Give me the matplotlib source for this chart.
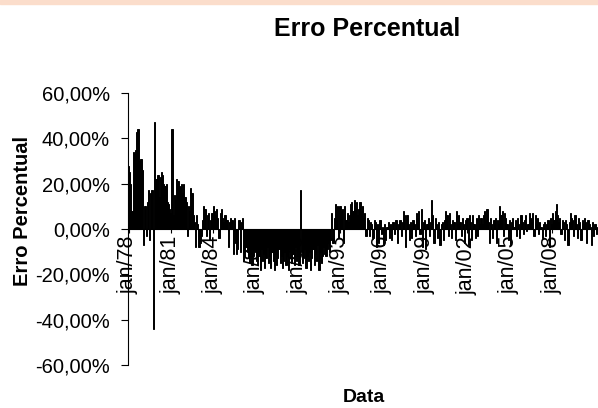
import matplotlib
matplotlib.use('Agg')
import matplotlib.pyplot as plt
import numpy as np
from matplotlib.patches import Rectangle
from matplotlib.ticker import FuncFormatter

plt.rcParams['font.family'] = ['Liberation Sans', 'DejaVu Sans']

# erro percentual mensal (%), jan/78 em diante
e1978 = [28, 25, 20, 8, 34, 33, 35, 43, 44, 30, 31, 31]
e1979 = [26, -7, 10, -3, 12, 17, -5, 16, 17, -44, 47, 22]
e1980 = [22, 24, 14, 23, 25, 24, 20, 19, 20, 12, 11, 9]
e1981 = [7, 44, 6, 15, 13, 22, 21, 19, 18, 20, 16, 20]
e1982 = [14, 12, -3, 10, 8, 18, 16, 6, 3, -8, 6, 2]
e1983 = [-8, -6, -3, 4, 10, 9, -3, 6, 7, -5, 4, 7]
e1984 = [10, 8, 6, 9, 5, -4, 7, 9, 5, 3, 6, 4]
e1985 = [4, -8, 3, 5, 4, -11, 5, -6, -11, -9, 4, -10]
e1986 = [3, 5, -14, -12, -8, -10, -13, -15, -11, -16, -12, -9]
e1987 = [-10, -14, -16, -12, -18, -9, -14, -11, -17, -13, -8, -15]
e1988 = [-12, -17, -10, -14, -18, -11, -16, -13, -9, -15, -12, -17]
e1989 = [-14, -10, -16, -12, -18, -9, -13, -15, -11, -16, -8, -14]
e1990 = [-12, -16, 17, -10, -15, -13, -9, -17, -12, -14, -10, -18]
e1991 = [-13, -9, -16, -11, -14, -7, -18, -10, -15, -12, -8, -11]
e1992 = [-12, -9, -6, -10, -5, 7, -6, 5, 11, 4, 10, -4]
e1993 = [10, 8, 9, -6, 10, 4, 7, 3, 6, 11, 12, 8]
e1994 = [13, 10, 12, 6, 9, 12, 8, 10, 5, 7, -3, 5]
e1995 = [4, -3, 3, 2, -4, 4, 3, -8, 2, -6, 4, -2]
e1996 = [1, -7, 2, -5, 1, 3, -4, 2, -5, 3, -2, 4]
e1997 = [4, -6, 2, 4, -3, 3, 8, 6, -8, 6, 2, -5]
e1998 = [3, -4, 4, 2, -3, 7, 5, 8, -2, 9, -8, 3]
e1999 = [4, -9, 2, 5, -3, 3, 13, 6, -6, 5, 2, -4]
e2000 = [3, -7, 2, 3, -5, 4, 8, 6, -3, 7, 2, -4]
e2001 = [4, 3, -5, 8, 2, 6, 3, -3, 5, 2, -6, 4]
e2002 = [5, -7, 6, 3, -5, 6, 2, -4, 5, -3, 6, 2]
e2003 = [5, 2, 6, 8, 4, 9, 3, -6, 5, 2, -4, 4]
e2004 = [5, -6, 4, 2, 10, 6, 8, -3, 7, 5, 2, -5]
e2005 = [4, -7, 3, 5, 1, 4, -3, 5, 2, -4, 6, 3]
e2006 = [-2, 4, 6, -1, 2, 7, 5, 3, 7, -3, 6, 2]
e2007 = [5, -2, 3, 1, -4, 2, 3, -3, 2, 4, -8, 5]
e2008 = [2, 7, 4, 8, 11, 6, 3, 5, -2, 4, 3, -5]
e2009 = [4, 2, -7, 3, 7, 5, 4, -3, 6, 2, -4, 5]
e2010 = [3, -5, 4, 2, 5, 3, -6, 4, 2, 1, -7, 3]
e2011 = [-3, 2, -2, 1]

erro = (e1978 + e1979 + e1980 + e1981 + e1982 + e1983 + e1984 + e1985 + e1986
        + e1987 + e1988 + e1989 + e1990 + e1991 + e1992 + e1993 + e1994 + e1995
        + e1996 + e1997 + e1998 + e1999 + e2000 + e2001 + e2002 + e2003 + e2004
        + e2005 + e2006 + e2007 + e2008 + e2009 + e2010 + e2011)

rotulos = ['jan/78', 'jan/81', 'jan/84', 'jan/87', 'jan/90', 'jan/93',
           'jan/96', 'jan/99', 'jan/02', 'jan/05', 'jan/08']

fig = plt.figure(figsize=(5.98, 4.08), dpi=100)
fig.patches.append(Rectangle((0, 0.99), 1, 0.01, transform=fig.transFigure,
                             color='#FBDDCB', zorder=0))
ax = fig.add_axes([0.214, 0.1054, 0.786, 0.6666])

ax.spines['top'].set_visible(False)
ax.spines['right'].set_visible(False)
ax.spines['bottom'].set_position(('data', 0))
ax.spines['bottom'].set_linewidth(0.8)
ax.spines['left'].set_linewidth(0.8)

x = np.arange(len(erro))
ax.bar(x, erro, width=1.0, color='black', edgecolor='black', linewidth=0.7)

ax.set_xlim(-0.5, len(erro) - 0.5)
ax.set_ylim(-60, 60)
ax.set_yticks([-60, -40, -20, 0, 20, 40, 60])
ax.yaxis.set_major_formatter(FuncFormatter(lambda v, p: ('%.2f%%' % v).replace('.', ',')))
ax.tick_params(axis='y', labelsize=14.5, length=5, width=0.8, direction='out', pad=8)

ax.set_xticks(np.arange(0, 36 * len(rotulos), 36))
ax.set_xticklabels(rotulos)
ax.tick_params(axis='x', labelsize=15.5, labelrotation=90, length=3, width=0.8,
               direction='out', pad=2)

fig.text(0.614, 0.93, 'Erro Percentual', fontsize=18, fontweight='bold',
         ha='center', va='center')
fig.text(0.037, 0.483, 'Erro Percentual', fontsize=14.5, fontweight='bold',
         ha='center', va='center', rotation=90)
fig.text(0.609, 0.025, 'Data', fontsize=14, fontweight='bold',
         ha='center', va='center')

fig.savefig('out.png', dpi=100)
